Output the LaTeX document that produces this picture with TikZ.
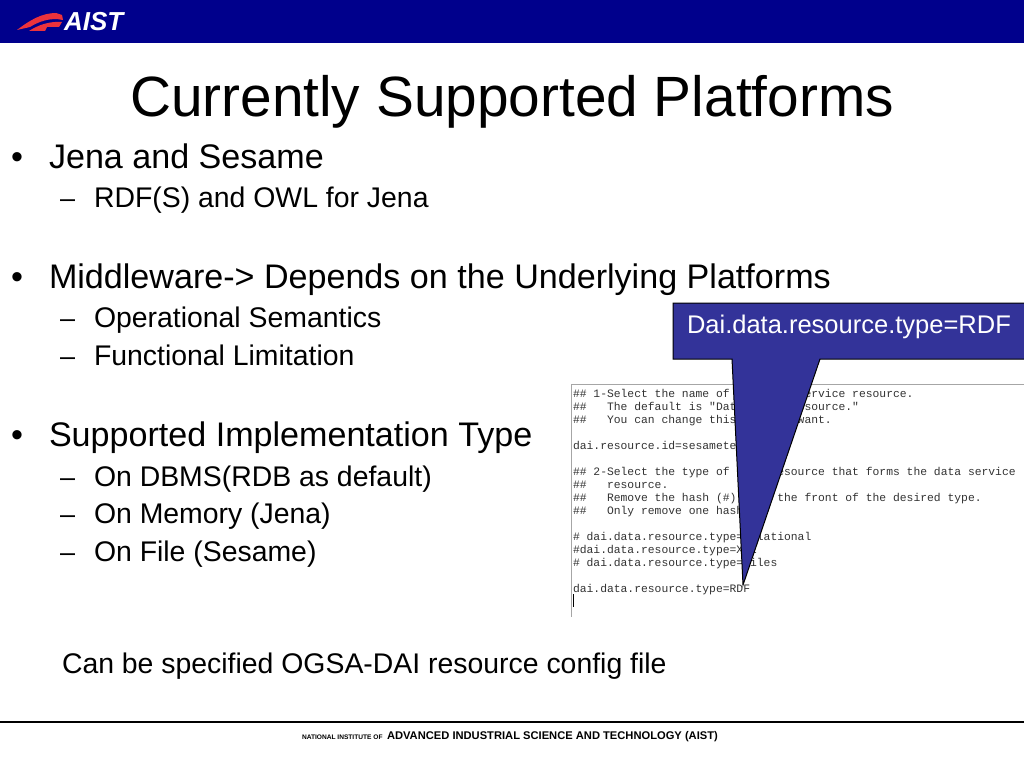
\documentclass[tikz,border=0pt]{standalone}
\usepackage{fontspec}
\setmainfont{Liberation Sans}
\setmonofont{Liberation Mono}
\definecolor{headblue}{RGB}{0,0,140}
\definecolor{callblue}{RGB}{51,51,153}
\definecolor{swoosh}{RGB}{235,50,60}
\tikzset{
  x=1pt,y=-1pt,
  txt/.style={anchor=base west,inner sep=0pt,outer sep=0pt,text=black},
  lvla/.style={txt,font=\fontsize{34.1}{34}\selectfont},
  lvlb/.style={txt,font=\fontsize{28.4}{28}\selectfont},
  dashm/.style={txt,font=\fontsize{27}{27}\selectfont},
  shot/.style={txt,font=\fontsize{11.35}{11.35}\ttfamily\selectfont,text=black!80},
}
\begin{document}
\begin{tikzpicture}
\useasboundingbox (0,0) rectangle (1024,768);
\fill[white] (0,0) rectangle (1024,768);
% header
\fill[headblue] (0,0) rectangle (1024,43);
\fill[swoosh] (17,30) .. controls (30,20) and (42,13) .. (56,13) -- (62,15) -- (63,20)
  .. controls (50,17) and (38,22) .. (30,27) .. controls (26,28) and (21,29) .. (17,30) -- cycle;
\fill[swoosh] (29,31) .. controls (38,25) and (50,21) .. (62,22) -- (59,27) -- (47,27) -- (45,31) -- cycle;
\node[txt,text=white,font=\fontsize{26}{26}\bfseries\itshape\selectfont] (logo) at (64,31) {AIST};
% title
\node[txt,font=\fontsize{56.8}{56}\selectfont] (title) at (130,116) {Currently Supported Platforms};
% bullets
\node[lvla] (b1m) at (11,168) {•};
\node[lvla] (b1) at (49,168) {Jena and Sesame};
\node[dashm] (b1a) at (60,207) {–};
\node[lvlb] (b1at) at (94,207) {RDF(S) and OWL for Jena};
\node[lvla] (b2m) at (11,288) {•};
\node[lvla] (b2) at (49,288) {Middleware-> Depends on the Underlying Platforms};
\node[dashm] (b2a) at (60,327) {–};
\node[lvlb] (b2at) at (94,327) {Operational Semantics};
\node[dashm] (b2b) at (60,365) {–};
\node[lvlb] (b2bt) at (94,365) {Functional Limitation};
\node[lvla] (b3m) at (11,446) {•};
\node[lvla] (b3) at (49,446) {Supported Implementation Type};
\node[dashm] (b3a) at (60,486) {–};
\node[lvlb] (b3at) at (94,486) {On DBMS(RDB as default)};
\node[dashm] (b3b) at (60,523) {–};
\node[lvlb] (b3bt) at (94,523) {On Memory (Jena)};
\node[dashm] (b3c) at (60,561) {–};
\node[lvlb] (b3ct) at (94,561) {On File (Sesame)};
\node[lvlb] (spec) at (62,673) {Can be specified OGSA-DAI resource config file};
% screenshot
\draw[black!35,line width=1pt] (1024,384) -- (571,384) -- (571,617);
\node[shot] (s1) at (573,397) {\#\#~1-Select the name of the data service resource.};
\node[shot] (s2) at (573,410) {\#\#~~~The default is "DataServiceResource."};
\node[shot] (s3) at (573,423) {\#\#~~~You can change this if you~~want.};
\node[shot] (s4) at (573,449) {dai.resource.id=sesametest};
\node[shot] (s5) at (573,475) {\#\#~2-Select the type of data resource that forms the data service};
\node[shot] (s6) at (573,488) {\#\#~~~resource.};
\node[shot] (s7) at (573,501) {\#\#~~~Remove the hash (\#) from the front of the desired type.};
\node[shot] (s8) at (573,514) {\#\#~~~Only remove one hash.};
\node[shot] (s9) at (573,540) {\#~dai.data.resource.type=relational};
\node[shot] (s10) at (573,553) {\#dai.data.resource.type=XML};
\node[shot] (s11) at (573,566) {\#~dai.data.resource.type=files};
\node[shot] (s12) at (573,592) {dai.data.resource.type=RDF};
\draw[black,line width=.8pt] (573,594) -- (573,607);
% callout
\draw[fill=callblue,draw=black,line width=1pt]
  (673,303) -- (1030,303) -- (1030,359) -- (820,359) -- (743,585) -- (732,359) -- (673,359) -- cycle;
\node[txt,text=white,font=\fontsize{25.5}{25}\selectfont] (call) at (687,333) {Dai.data.resource.type=RDF};
% footer
\draw[black,line width=1.2pt] (0,722) -- (1024,722);
\node[txt,font=\fontsize{6.6}{7}\bfseries\selectfont] (f1) at (302,739) {NATIONAL INSTITUTE OF};
\node[txt,font=\fontsize{11.16}{12}\bfseries\selectfont] (f2) at (387,739) {ADVANCED INDUSTRIAL SCIENCE AND TECHNOLOGY (AIST)};
\end{tikzpicture}
\end{document}
